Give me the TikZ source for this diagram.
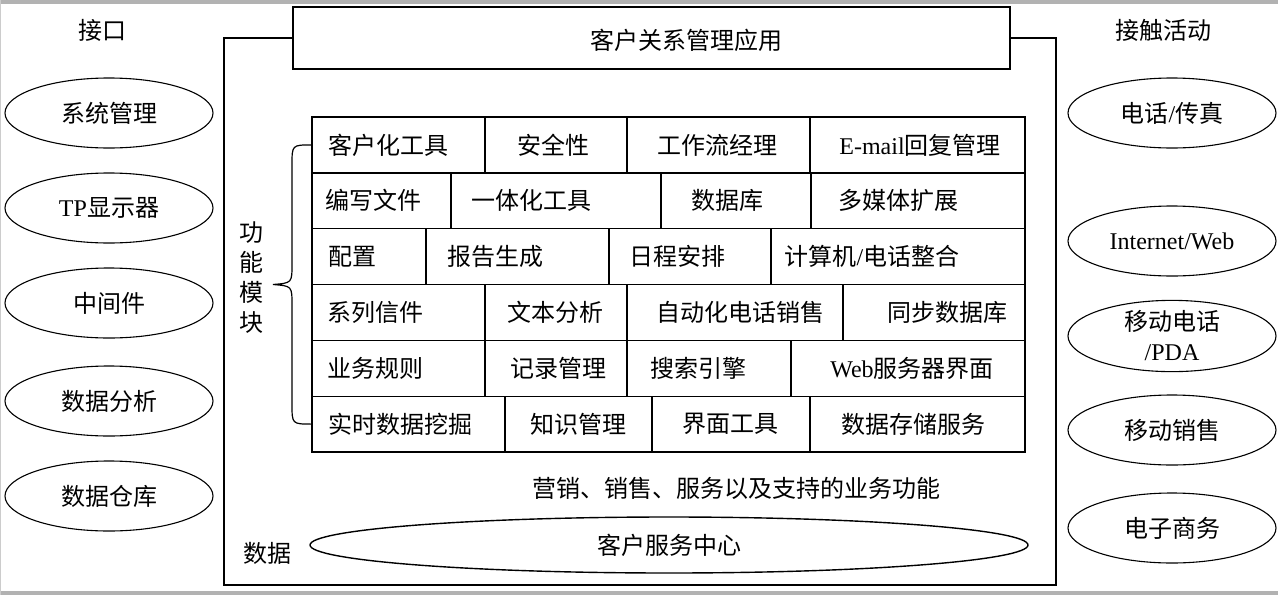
\documentclass[tikz,border=0pt]{standalone}
\usepackage{fontspec}
\usepackage{tikz}
\usetikzlibrary{shapes,positioning}
\setmainfont{Liberation Serif}
\newfontfamily\cjk{Noto Sans CJK SC}
\newcommand{\lat}[1]{{\rmfamily #1}}
% one cell of the module table: name, left x, right x, centre y, text x, text
\newcommand{\modcell}[6]{%
  \node[cellbox, minimum width={(#3-#2)*1pt}] (#1) at ({(#2+#3)/2},#4) {};
  \node[celltext] (#1-t) at (#5,#4) {#6};}

\begin{document}
\begin{tikzpicture}[
    x=1pt, y=-1pt,
    every node/.style={align=center, font=\cjk\fontsize{24}{30}\selectfont},
    oval/.style={ellipse, draw, line width=1.1pt, minimum width=208pt, minimum height=70pt, inner sep=0pt},
    cellbox/.style={rectangle, draw, line width=1.4pt, minimum height=55.8pt, inner sep=0pt},
    celltext/.style={inner sep=0pt},
    frameline/.style={line width=1.5pt},
    appbox/.style={rectangle, draw, fill=white, line width=1.5pt, minimum width=717pt, minimum height=62pt, inner sep=0pt}
]
\useasboundingbox (0,0) rectangle (1278,595);
% page edges
\fill[gray!60] (0,0) rectangle (1278,4);
\fill[gray!60] (0,591) rectangle (1278,595);
\draw[gray!40, line width=1pt] (0.5,0) -- (0.5,595);

% Interfaces
\node (ifacelabel) at (102,30) {接口};
\node[oval] (sysmgmt) at (109,113) {系统管理};
\node[oval] (tpdisp) at (109,208) {\lat{TP}显示器};
\node[oval] (middleware) at (109,303) {中间件};
\node[oval] (analysis) at (109,401) {数据分析};
\node[oval] (warehouse) at (109,496) {数据仓库};

% Contact activities
\node (contactlabel) at (1163,30) {接触活动};
\node[oval] (phonefax) at (1172,113) {电话\lat{/}传真};
\node[oval] (internet) at (1172,241) {\lat{Internet/Web}};
\node[oval] (mobile) at (1172,336) {移动电话\\\lat{/PDA}};
\node[oval] (mobilesales) at (1172,430) {移动销售};
\node[oval] (ecommerce) at (1172,528) {电子商务};

% CRM application frame
\draw[frameline] (224,38) rectangle (1056,585);
\node[appbox] (app) at (651.5,38) {};
\node (apptext) at (686,40) {客户关系管理应用};

% Module table
\modcell{r1c1}{312}{485}{144.9}{388}{客户化工具}
\modcell{r1c2}{485}{627}{144.9}{553}{安全性}
\modcell{r1c3}{627}{810}{144.9}{717}{工作流经理}
\modcell{r1c4}{810}{1025}{144.9}{920}{\lat{E-mail}回复管理}
\modcell{r2c1}{312}{451}{200.7}{373}{编写文件}
\modcell{r2c2}{451}{661}{200.7}{531}{一体化工具}
\modcell{r2c3}{661}{811}{200.7}{727}{数据库}
\modcell{r2c4}{811}{1025}{200.7}{898}{多媒体扩展}
\modcell{r3c1}{312}{426}{256.6}{352}{配置}
\modcell{r3c2}{426}{609}{256.6}{495}{报告生成}
\modcell{r3c3}{609}{771}{256.6}{677}{日程安排}
\modcell{r3c4}{771}{1025}{256.6}{872}{计算机\lat{/}电话整合}
\modcell{r4c1}{312}{485}{312.4}{375}{系列信件}
\modcell{r4c2}{485}{627}{312.4}{555}{文本分析}
\modcell{r4c3}{627}{843}{312.4}{740}{自动化电话销售}
\modcell{r4c4}{843}{1025}{312.4}{947}{同步数据库}
\modcell{r5c1}{312}{485}{368.3}{375}{业务规则}
\modcell{r5c2}{485}{627}{368.3}{558}{记录管理}
\modcell{r5c3}{627}{791}{368.3}{698}{搜索引擎}
\modcell{r5c4}{791}{1025}{368.3}{912}{\lat{Web}服务器界面}
\modcell{r6c1}{312}{505}{424.1}{400}{实时数据挖掘}
\modcell{r6c2}{505}{652}{424.1}{578}{知识管理}
\modcell{r6c3}{652}{810}{424.1}{730}{界面工具}
\modcell{r6c4}{810}{1025}{424.1}{913}{数据存储服务}

% Brace and its label
\draw[line width=1.2pt] (r1c1.west) .. controls (292,145) .. (292,165) -- (292,264)
  .. controls (292,283) .. (273,284.5) .. controls (292,286) .. (292,305) -- (292,404)
  .. controls (292,424) .. (r6c1.west);
\node (modlabel) at (251,278) {功\\能\\模\\块};

% Business functions and data
\node (business) at (736,488) {营销、销售、服务以及支持的业务功能};
\node[ellipse, draw, line width=1.4pt, minimum width=718pt, minimum height=56pt, inner sep=0pt] (center) at (669,545) {客户服务中心};
\node (datalabel) at (267,553) {数据};

\end{tikzpicture}
\end{document}
